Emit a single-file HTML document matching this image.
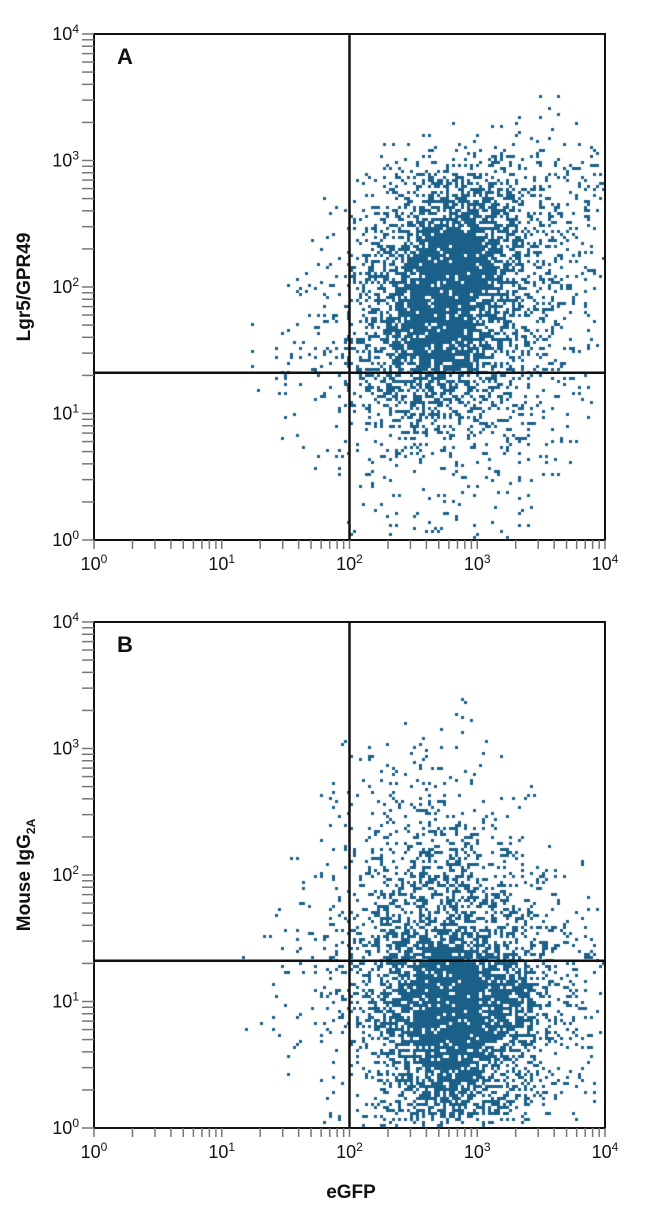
<!DOCTYPE html>
<html><head><meta charset="utf-8">
<style>
html,body{margin:0;padding:0;background:#fff;}
body{width:650px;height:1213px;position:relative;overflow:hidden;font-family:"Liberation Sans Narrow","Liberation Sans",sans-serif;}
svg{position:absolute;left:0;top:0;}
</style></head>
<body>
<canvas id="cv" width="650" height="1213" style="position:absolute;left:0;top:0"></canvas>
<svg id="sv" width="650" height="1213"></svg>
<script>
// Density grids: 16x16 cells of 0.25 decade, rows from top (y 10^4) to bottom (10^0), cols from x 10^0 to 10^4. Values 0-9.
const gridA = [
[0,0,0,0,0,0,0,0,0,0,0,0,0,0,0,0],
[0,0,0,0,0,0,0,0,0,0,0,0,0,0,0,0],
[0,0,0,0,0,0,0,0,0,0,0,0,0,1,1,0],
[0,0,0,0,0,0,0,0,0,1,1,2,2,2,1,1],
[0,0,0,0,0,0,0,0,1,2,4,5,4,3,2,2],
[0,0,0,0,0,0,0,1,2,4,6,7,6,4,3,2],
[0,0,0,0,0,0,0,1,3,5,8,9,7,5,3,2],
[0,0,0,0,0,0,1,1,4,6,9,9,8,5,3,2],
[0,0,0,0,0,0,1,2,4,7,9,9,7,4,3,1],
[0,0,0,0,0,1,1,2,4,7,9,8,6,4,2,1],
[0,0,0,0,0,1,2,2,4,6,8,7,5,3,2,1],
[0,0,0,0,0,1,1,2,3,5,6,5,4,3,1,1],
[0,0,0,0,0,0,1,1,2,3,4,3,3,2,1,0],
[0,0,0,0,0,0,0,1,1,2,2,2,2,1,1,0],
[0,0,0,0,0,0,0,0,1,1,1,1,1,1,0,0],
[0,0,0,0,0,0,0,0,1,1,1,1,1,1,0,0]
];
const gridB = [
[0,0,0,0,0,0,0,0,0,0,0,0,0,0,0,0],
[0,0,0,0,0,0,0,0,0,0,0,0,0,0,0,0],
[0,0,0,0,0,0,0,0,0,0,0,1,0,0,0,0],
[0,0,0,0,0,0,0,0,1,0,1,1,0,0,0,0],
[0,0,0,0,0,0,0,0,1,1,1,1,1,0,0,0],
[0,0,0,0,0,0,0,1,1,2,2,2,1,1,0,0],
[0,0,0,0,0,0,0,1,2,2,3,3,2,1,0,0],
[0,0,0,0,0,0,1,1,2,3,4,4,3,2,1,0],
[0,0,0,0,0,0,1,1,3,4,5,5,4,3,1,1],
[0,0,0,0,0,0,1,2,3,5,6,6,5,4,2,1],
[0,0,0,0,0,1,1,2,4,6,8,8,6,5,3,2],
[0,0,0,0,0,1,1,2,4,7,9,9,8,6,3,2],
[0,0,0,0,0,1,1,2,4,7,9,9,8,6,3,2],
[0,0,0,0,0,0,1,1,3,6,8,9,7,5,2,1],
[0,0,0,0,0,0,0,1,2,5,7,8,6,4,2,1],
[0,0,0,0,0,0,0,1,2,4,5,6,5,3,1,0]
];
const decades = [0,1,2,3,4];
const gateX = 100;
const gateY = 21;
const panelLabels = ["A","B"];

const L=94,R=605,W=R-L,H=506;
const panels=[{top:34,grid:gridA},{top:622,grid:gridB}];
function xs(v){return L+Math.log10(v)/4*W;}
function ys(top,v){return top+H-Math.log10(v)/4*H;}

// deterministic hash dither threshold (rendering only, not data)
function hashT(i,j,k){let h=(i*374761393+j*668265263+k*2147483647)|0;h=(h^(h>>>13))*1274126177|0;h=h^(h>>>16);return ((h>>>0)%10007)/10007;}

const ctx=document.getElementById('cv').getContext('2d');
ctx.fillStyle='#1b6088';
panels.forEach((p,pi)=>{
  const n=p.grid.length;
  const g=(r,c)=>(r<0||c<0||r>=n||c>=n)?0:p.grid[r][c];
  const s=3;
  for(let py=p.top+1;py<p.top+H-1;py+=s){
    for(let px=L+1;px<R-1;px+=s){
      const cx=(px+1.5-L)/W*n-0.5, ry=(py+1.5-p.top)/H*n-0.5;
      const c0=Math.floor(cx), r0=Math.floor(ry), fx=cx-c0, fy=ry-r0;
      const d=(g(r0,c0)*(1-fx)+g(r0,c0+1)*fx)*(1-fy)+(g(r0+1,c0)*(1-fx)+g(r0+1,c0+1)*fx)*fy;
      if(d<=0.05)continue;
      const f=Math.min(0.9,Math.pow(d/9,1.5)*0.92+0.01*d);
      const i=Math.round((px-L)/s), j=Math.round((py-p.top)/s);
      if(hashT(i,j,pi+1)<f) ctx.fillRect(px,py,3,3);
    }
  }
});

const NS='http://www.w3.org/2000/svg';
const sv=document.getElementById('sv');
function el(tag,attrs,parent){const e=document.createElementNS(NS,tag);for(const k in attrs)e.setAttribute(k,attrs[k]);(parent||sv).appendChild(e);return e;}

panels.forEach((p,pi)=>{
  const g=el('g',{});
  
  
  const box=el('rect',{x:L,y:p.top,width:W,height:H,fill:'none',stroke:'#111','stroke-width':2},g);
  
  
  decades.forEach(d=>{
    for(let m=1;m<=9;m++){
      if(d===4&&m>1)break;
      const v=m*Math.pow(10,d);
      const x=xs(v);
      const tx=el('line',{x1:x,x2:x,y1:p.top+H,y2:p.top+H+9,stroke:'#777','stroke-width':1.5},g);
      
      
      const y=ys(p.top,v);
      const ty=el('line',{x1:L-12,x2:L,y1:y,y2:y,stroke:'#777','stroke-width':1.5},g);
      
      
    }
    const xl=el('text',{x:xs(Math.pow(10,d)),y:p.top+H+30,'text-anchor':'middle','font-size':18,fill:'#111'},g);
    xl.innerHTML='10<tspan dy="-7" font-size="12">'+d+'</tspan>';
    
    
    const yl=el('text',{x:79,y:ys(p.top,Math.pow(10,d))+6,'text-anchor':'end','font-size':18,fill:'#111'},g);
    yl.innerHTML='10<tspan dy="-7" font-size="12">'+d+'</tspan>';
    
    
  });
  const gv=el('line',{x1:xs(gateX),x2:xs(gateX),y1:p.top,y2:p.top+H,stroke:'#111','stroke-width':2.5},g);
  
  
  const gh=el('line',{x1:L,x2:R,y1:ys(p.top,gateY),y2:ys(p.top,gateY),stroke:'#111','stroke-width':2.5},g);
  
  
  const pl=el('text',{x:117,y:p.top+30,'font-size':22,'font-weight':'bold',fill:'#111'},g);
  pl.textContent=panelLabels[pi];
  
  
});
</script>
<svg width="650" height="1213" style="pointer-events:none">
<text x="30" y="287" transform="rotate(-90 30 287)" text-anchor="middle" font-size="19" font-weight="bold" fill="#111">Lgr5/GPR49</text>
<text x="30" y="875" transform="rotate(-90 30 875)" text-anchor="middle" font-size="19" font-weight="bold" fill="#111">Mouse IgG<tspan dy="5" font-size="12">2A</tspan></text>
<text x="351" y="1198" text-anchor="middle" font-size="19" font-weight="bold" fill="#111">eGFP</text>
</svg>
</body></html>
